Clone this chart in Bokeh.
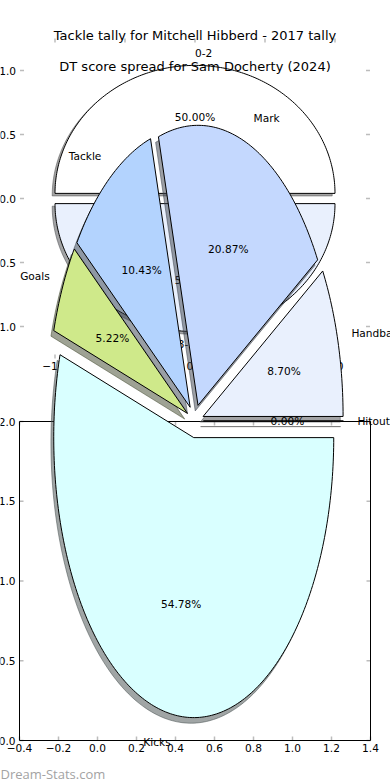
import numpy as np
from bokeh.plotting import figure
from bokeh.models import Range1d
from bokeh.core.properties import value
from bokeh.embed import file_html
from bokeh.resources import INLINE

# ---------------- data ----------------
tally_title = "Tackle tally for Mitchell Hibberd - 2017 tally"
tally_bins = ["0-2", "3-5"]
tally_share = [50.0, 50.0]

dt_title = "DT score spread for Sam Docherty (2024)"
stat_names = ["Hitout", "Handball", "Mark", "Tackle", "Goals", "Kicks"]
stat_counts = [0, 10, 24, 12, 6, 63]

pie_axis_ticks = [-1.0, -0.5, 0.0, 0.5, 1.0]
pie_axis_labels = ["\u22121.0", "\u22120.5", "0.0", "0.5", "1.0"]
grid_x_ticks = [-0.4, -0.2, 0.0, 0.2, 0.4, 0.6, 0.8, 1.0, 1.2, 1.4]
grid_x_labels = ["\u22120.4", "\u22120.2", "0.0", "0.2", "0.4", "0.6", "0.8", "1.0", "1.2", "1.4"]
grid_y_ticks = [0.0, 0.5, 1.0, 1.5, 2.0]
grid_y_labels = ["0.0", "0.5", "1.0", "1.5", "2.0"]
watermark = "Dream-Stats.com"

# ---------------- styles ----------------
tally_colors = ["#ffffff", "#e9f0fd"]
stat_colors = ["#ffffff", "#e9f0fd", "#c4d8fe", "#b3d3fe", "#cfe98a", "#d9ffff"]
FONT = value("DejaVu Sans")
LBL = "10.6px"
TICK_COLOR = "#bcbcbc"

# ---------------- layout (page pixels) ----------------
PX0, PX1, PY0, PY1 = 0, 390, 0, 780


def xmap(L, R, v0, v1):
    k = (v1 - v0) / (R - L)
    return Range1d(start=v0 + (PX0 - L) * k, end=v0 + (PX1 - L) * k)


def ymap(T, B, vt, vb):
    k = (vb - vt) / (B - T)
    return Range1d(start=vt + (PY1 - T) * k, end=vt + (PY0 - T) * k)


p = figure(width=PX1 - PX0, height=PY1 - PY0,
           x_range=Range1d(PX0, PX1), y_range=Range1d(PY1, PY0),
           output_backend="svg", toolbar_location=None, min_border=0,
           x_axis_location=None, y_axis_location=None)
p.outline_line_color = None
p.background_fill_color = "white"
p.border_fill_color = "white"
p.xgrid.visible = False
p.ygrid.visible = False
p.grid.grid_line_color = None

# chart A: pie axes of the tally chart; pie B axes; chart C: plain axes
A_box = (19.5, 369.5, 38.0, 358.0)
B_box = (19.5, 369.5, 70.5, 770.5)
C_box = (19.0, 370.0, 421.0, 740.0)
p.extra_x_ranges = {
    "A": xmap(A_box[0], A_box[1], -1.25, 1.25),
    "C": xmap(C_box[0], C_box[1], -0.4, 1.4),
}
p.extra_y_ranges = {
    "A": ymap(A_box[2], A_box[3], 1.25, -1.25),
    "B": ymap(B_box[2], B_box[3], 1.25, -1.25),
    "C": ymap(C_box[2], C_box[3], 2.0, 0.0),
}
A_px = (A_box[1] - A_box[0]) / 2.5
A_py = (A_box[3] - A_box[2]) / 2.5
C_px = (C_box[1] - C_box[0]) / 1.8
C_py = (C_box[3] - C_box[2]) / 2.0
TL = 4.0

# ---------------- chart C ----------------
kwC = dict(x_range_name="C", y_range_name="C")
gx, gy = grid_x_ticks, grid_y_ticks
p.segment(x0=gx + gx, x1=gx + gx,
          y0=[0.0] * len(gx) + [2.0] * len(gx),
          y1=[TL / C_py] * len(gx) + [2.0 - TL / C_py] * len(gx),
          line_color=TICK_COLOR, line_width=1.5, **kwC)
p.segment(x0=[-0.4] * len(gy) + [1.4] * len(gy),
          x1=[-0.4 + TL / C_px] * len(gy) + [1.4 - TL / C_px] * len(gy),
          y0=gy + gy, y1=gy + gy,
          line_color=TICK_COLOR, line_width=1.5, **kwC)
p.quad(left=[-0.4], right=[1.4], bottom=[0.0], top=[2.0],
       fill_color=None, line_color="black", line_width=1, **kwC)
p.text(x=gx, y=[-7.0 / C_py] * len(gx), text=grid_x_labels,
       text_align="center", text_baseline="middle", text_font=FONT,
       text_font_size=LBL, text_color="black", **kwC)
p.text(x=[-0.4] * len(gy), y=gy, text=grid_y_labels, x_offset=-4,
       text_align="right", text_baseline="middle", text_font=FONT,
       text_font_size=LBL, text_color="black", **kwC)

# ---------------- chart A (tally pie axes) ----------------
kwA = dict(x_range_name="A", y_range_name="A")
at = pie_axis_ticks
n = len(at)
p.segment(x0=at + at, x1=at + at,
          y0=[-1.25] * n + [1.25] * n,
          y1=[-1.25 + TL / A_py] * n + [1.25 - TL / A_py] * n,
          line_color=TICK_COLOR, line_width=1.5, **kwA)
p.segment(x0=[-1.25] * n + [1.25] * n,
          x1=[-1.25 + TL / A_px] * n + [1.25 - TL / A_px] * n,
          y0=at + at, y1=at + at,
          line_color=TICK_COLOR, line_width=1.5, **kwA)
p.text(x=[-1.25] * n, y=at, text=pie_axis_labels, x_offset=-4,
       text_align="right", text_baseline="middle", text_font=FONT,
       text_font_size=LBL, text_color="black", **kwA)
p.text(x=at, y=[-1.25 - 7.5 / A_py] * n, text=pie_axis_labels,
       text_align="center", text_baseline="middle", text_font=FONT,
       text_font_size=LBL, text_color="black", **kwA)


def shade(c):
    c = c.lstrip("#")
    r, g, b = (int(c[i:i + 2], 16) for i in (0, 2, 4))
    return "#%02x%02x%02x" % (int(r * 0.3), int(g * 0.3), int(b * 0.3))


def draw_pie(values, names, colors, explode, xname, yname):
    kw = dict(x_range_name=xname, y_range_name=yname)
    total = float(sum(values))
    t = 0.0
    wx, wy, info = [], [], []
    for v in values:
        span = 360.0 * v / total
        t1, t2 = t, t + span
        mid = np.radians((t1 + t2) / 2.0)
        cx, cy = explode * np.cos(mid), explode * np.sin(mid)
        ts = np.radians(np.linspace(t1, t2, max(2, int(span) + 2)))
        wx.append(list(np.concatenate([[cx], cx + np.cos(ts), [cx]])))
        wy.append(list(np.concatenate([[cy], cy + np.sin(ts), [cy]])))
        info.append((mid, 100.0 * v / total))
        t = t2
    sc = [shade(c) for c in colors]
    p.patches(xs=[[x - 0.02 for x in xs] for xs in wx],
              ys=[[y - 0.02 for y in ys] for ys in wy],
              fill_color=sc, fill_alpha=0.5, line_color=sc, line_alpha=0.5,
              line_width=1, **kw)
    p.patches(xs=wx, ys=wy, fill_color=colors, line_color="black",
              line_width=1, **kw)
    for align in ("left", "right"):
        idx = [i for i, (m, _) in enumerate(info)
               if (np.cos(m) > 0) == (align == "left")]
        if not idx:
            continue
        r = 1.1 + explode
        p.text(x=[r * np.cos(info[i][0]) for i in idx],
               y=[r * np.sin(info[i][0]) for i in idx],
               text=[names[i] for i in idx], text_align=align,
               text_baseline="middle", text_font=FONT, text_font_size=LBL,
               text_color="black", **kw)
    r = 0.6 + explode
    p.text(x=[r * np.cos(m) for m, _ in info], y=[r * np.sin(m) for m, _ in info],
           text=["%.2f%%" % pc for _, pc in info], text_align="center",
           text_baseline="middle", text_font=FONT, text_font_size=LBL,
           text_color="black", **kw)


draw_pie(tally_share, tally_bins, tally_colors, 0.04, "A", "A")
p.text(x=[194.5], y=[34.5], text=[tally_title], text_align="center",
       text_baseline="alphabetic", text_font=FONT, text_font_size="13px",
       text_color="black")

# ---------------- pie B (stat breakdown) ----------------
draw_pie(stat_counts, stat_names, stat_colors, 0.06, "A", "B")
p.text(x=[194.5], y=[65.5], text=[dt_title], text_align="center",
       text_baseline="alphabetic", text_font=FONT, text_font_size="13px",
       text_color="black")

p.text(x=[0], y=[773], text=[watermark], text_align="left",
       text_baseline="alphabetic", text_font=value("Open Sans"),
       text_font_size="13px", text_color="#a3a3a3")

open("out.html", "w").write(file_html(p, INLINE))
